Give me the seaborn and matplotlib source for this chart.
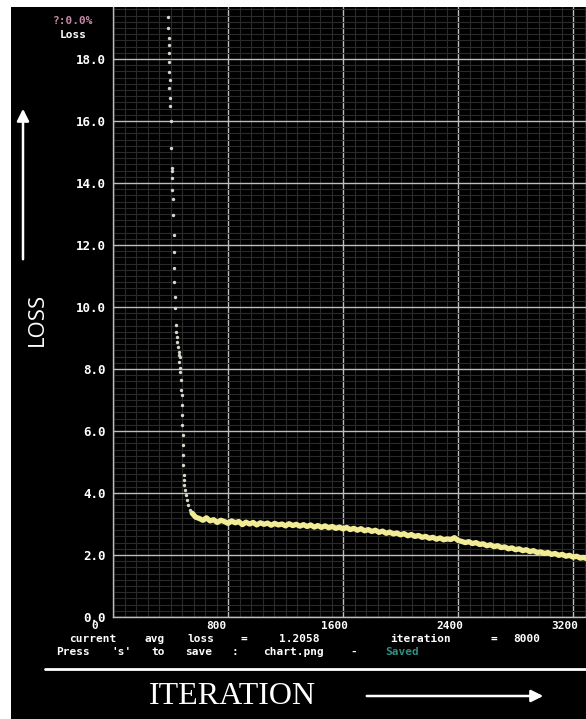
"""
Darknet style training chart: loss vs iteration
"""

import numpy as np
import pandas as pd
import matplotlib
matplotlib.use('Agg')
import matplotlib.pyplot as plt
import matplotlib.transforms as mtransforms
from matplotlib.patches import Rectangle, FancyArrowPatch
from matplotlib.ticker import MultipleLocator
import seaborn as sns

# -----------------------------
# data
# -----------------------------
# early scattered points (iteration, loss)
dot_iter = [383, 383, 390, 390, 390, 390, 390, 397, 390, 397, 397, 404, 404, 410, 410,
            410, 410, 417, 417, 424, 424, 424, 424, 431, 431, 438, 438, 445, 445, 452,
            459, 459, 466, 459, 466, 466, 473, 473, 480, 480, 480, 480, 487, 487, 487,
            487, 494, 494, 494, 501, 508, 515, 522, 536]
dot_loss = [19.35, 19.0, 18.68, 18.45, 18.19, 17.9, 17.58, 17.32, 17.06, 16.74, 16.48,
            16.0, 15.13, 14.48, 14.4, 14.16, 13.77, 13.5, 12.97, 12.32, 11.77, 11.26,
            10.81, 10.32, 9.97, 9.42, 9.19, 9.03, 8.87, 8.71, 8.55, 8.45, 8.39, 8.23,
            8.03, 7.9, 7.65, 7.32, 7.16, 6.84, 6.52, 6.19, 5.87, 5.55, 5.23, 4.9, 4.58,
            4.42, 4.26, 4.1, 3.94, 3.77, 3.6, 3.45]

# continuous avg loss line, one value every 25 iterations from 550
line_start, line_step = 550, 25
line_loss = [3.35, 3.22, 3.18, 3.12, 3.20, 3.10, 3.14, 3.05, 3.12, 3.08, 3.02, 3.10,
             3.04, 3.08, 2.98, 3.06, 3.00, 3.05, 2.97, 3.04, 2.99, 3.03, 2.96, 3.02,
             2.97, 3.00, 2.94, 3.01, 2.95, 2.99, 2.93, 2.98, 2.92, 2.97, 2.90, 2.95,
             2.89, 2.94, 2.88, 2.92, 2.86, 2.90, 2.84, 2.89, 2.82, 2.86, 2.80, 2.85,
             2.78, 2.82, 2.76, 2.80, 2.73, 2.77, 2.70, 2.74, 2.68, 2.71, 2.65, 2.69,
             2.62, 2.66, 2.60, 2.63, 2.57, 2.60, 2.54, 2.57, 2.51, 2.55, 2.49, 2.52,
             2.50, 2.56, 2.47, 2.44, 2.40, 2.43, 2.37, 2.40, 2.34, 2.36, 2.30, 2.33,
             2.27, 2.30, 2.24, 2.26, 2.20, 2.23, 2.17, 2.20, 2.14, 2.17, 2.11, 2.14,
             2.08, 2.10, 2.05, 2.08, 2.02, 2.05, 1.99, 2.02, 1.96, 1.99, 1.93, 1.96,
             1.90, 1.92, 1.87]

x_ticks = [0, 800, 1600, 2400, 3200]
x_labels = ['0', '800', '1600', '2400', '3200']
y_ticks = [0, 2, 4, 6, 8, 10, 12, 14, 16, 18]
y_labels = ['0.0', '2.0', '4.0', '6.0', '8.0', '10.0', '12.0', '14.0', '16.0', '18.0']

# status lines under the chart, word by word: (centre px, text)
status_1 = [(93, 'current'), (155, 'avg'), (201, 'loss'), (244, '='), (299, '1.2058'),
            (421, 'iteration'), (494, '='), (527, '8000')]
status_2 = [(73, 'Press'), (122, "'s'"), (158, 'to'), (199, 'save'), (235, ':'),
            (294, 'chart.png'), (354, '-'), (402, 'Saved')]

line_df = pd.DataFrame({
    'iteration': [line_start + i * line_step for i in range(len(line_loss))],
    'loss': line_loss,
})
dot_df = pd.DataFrame({'iteration': dot_iter, 'loss': dot_loss})

# -----------------------------
# figure
# -----------------------------
sns.set_style('dark')
W, H = 586, 719
mono = ['DejaVu Sans Mono']


def px(x, y):
    return x / W, 1 - y / H


fig = plt.figure(figsize=(W / 100, H / 100), dpi=100, facecolor='white')
fig.patches.append(Rectangle((11 / W, 0), 1, 1 - 7 / H, transform=fig.transFigure,
                             facecolor='black', edgecolor='none', zorder=-5))

ax = fig.add_axes([113 / W, 1 - 617 / H, (W - 113) / W, (617 - 7) / H])
ax.set_facecolor('black')

sns.lineplot(data=line_df, x='iteration', y='loss', ax=ax, color='#f0eb94',
             linewidth=3.8, zorder=4)
sns.scatterplot(data=dot_df, x='iteration', y='loss', ax=ax, color='#d6d6ca',
                s=6, linewidth=0, zorder=4)

ax.set_xlim(0, 3290)
ax.set_ylim(0, 19.68)
ax.xaxis.set_minor_locator(MultipleLocator(80))
ax.yaxis.set_minor_locator(MultipleLocator(0.2))
ax.grid(which='minor', color='#2a2a2a', linewidth=0.8)
ax.grid(which='major', color='#bdbdbd', linewidth=1.0)
ax.set_axisbelow(True)

ax.set_xticks(x_ticks)
ax.set_xticklabels(x_labels)
ax.set_yticks(y_ticks)
ax.set_yticklabels(y_labels)
ax.tick_params(which='both', length=0, colors='white')
ax.tick_params(axis='y', pad=5)
ax.tick_params(axis='x', pad=3)
for lbl in ax.get_yticklabels():
    lbl.set_fontfamily(mono)
    lbl.set_fontweight('bold')
    lbl.set_fontsize(9)
shift = mtransforms.ScaledTranslation(-22 / 100, 0, fig.dpi_scale_trans)
for lbl in ax.get_xticklabels():
    lbl.set_fontfamily(mono)
    lbl.set_fontweight('bold')
    lbl.set_fontsize(8)
    lbl.set_horizontalalignment('left')
    lbl.set_transform(lbl.get_transform() + shift)

ax.set_xlabel('')
ax.set_ylabel('')
for side in ['top', 'right']:
    ax.spines[side].set_visible(False)
for side in ['left', 'bottom']:
    ax.spines[side].set_color('#bdbdbd')
    ax.spines[side].set_linewidth(1.0)

# header text top-left
fig.text(*px(73, 21.5), '?:0.0%', color='#c58aa8', fontfamily=mono, fontweight='bold',
         fontsize=8, va='center', ha='center')
fig.text(*px(73, 34.5), 'Loss', color='white', fontfamily=mono, fontweight='bold',
         fontsize=8, va='center', ha='center')

for x, word in status_1:
    fig.text(*px(x, 639), word, color='white', fontfamily=mono, fontweight='bold',
             fontsize=8, va='center', ha='center')
for x, word in status_2:
    fig.text(*px(x, 652), word, color='#2f8f80' if word == 'Saved' else 'white',
             fontfamily=mono, fontweight='bold', fontsize=8, va='center', ha='center')

# separator line
fig.add_artist(plt.Line2D([45 / W, 1], [1 - 669 / H, 1 - 669 / H],
                          transform=fig.transFigure, color='white', linewidth=2))

# axis captions with arrows
fig.text(*px(37, 319), 'LOSS', color='white', fontfamily='Open Sans', fontsize=16,
         rotation=90, va='center', ha='center')
fig.text(*px(232, 697), 'ITERATION', color='white', fontfamily='Liberation Serif',
         fontsize=23, va='center', ha='center')
fig.add_artist(FancyArrowPatch(px(23, 262), px(23, 106), transform=fig.transFigure,
                               arrowstyle='-|>', mutation_scale=18, color='white',
                               linewidth=1.8))
fig.add_artist(FancyArrowPatch(px(364, 696), px(546, 696), transform=fig.transFigure,
                               arrowstyle='-|>', mutation_scale=18, color='white',
                               linewidth=1.8))

fig.savefig('out.png', dpi=100, facecolor='white')
